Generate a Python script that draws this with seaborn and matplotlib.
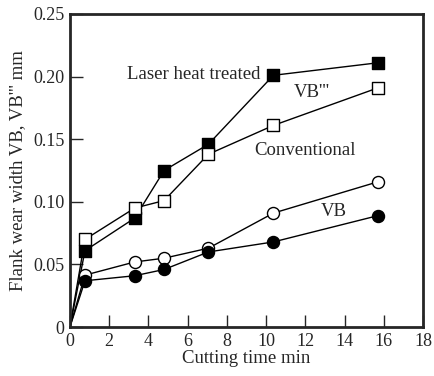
import matplotlib
matplotlib.use("Agg")
import matplotlib.pyplot as plt
import seaborn as sns
import pandas as pd

# cutting time (min) and flank wear (mm)
time = [0, 0.77, 3.3, 4.8, 7.06, 10.37, 15.7]
laser_vb3 = [0, 0.061, 0.087, 0.125, 0.146, 0.201, 0.211]
conv_vb3 = [0, 0.070, 0.095, 0.101, 0.138, 0.161, 0.191]
conv_vb = [0, 0.0415, 0.052, 0.055, 0.063, 0.091, 0.116]
laser_vb = [0, 0.037, 0.041, 0.046, 0.060, 0.068, 0.089]

sns.set_style("ticks")
plt.rcParams["font.family"] = ["Liberation Serif", "DejaVu Serif"]

fig = plt.figure(figsize=(4.34, 3.76), dpi=100)
ax = fig.add_axes([0.161, 0.130, 0.814, 0.833])

series = [
    (laser_vb3, "s", "black"),
    (conv_vb3, "s", "white"),
    (conv_vb, "o", "white"),
    (laser_vb, "o", "black"),
]
for vals, mk, fc in series:
    df = pd.DataFrame({"t": time, "w": vals})
    sns.lineplot(data=df, x="t", y="w", ax=ax, color="black", lw=1.0,
                 zorder=2)
    sns.scatterplot(data=df.iloc[1:], x="t", y="w", ax=ax, marker=mk,
                    s=75, facecolor=fc, edgecolor="black", linewidth=1.0,
                    zorder=3)

ax.set_xlim(0, 18)
ax.set_ylim(0, 0.25)
ax.set_xticks(range(0, 19, 2))
ax.set_yticks([0, 0.05, 0.10, 0.15, 0.20, 0.25])
ax.set_yticklabels(["0", "0.05", "0.10", "0.15", "0.20", "0.25"])
ax.tick_params(direction="in", length=9, width=1.0, labelsize=13, pad=4)
for sp in ax.spines.values():
    sp.set_linewidth(2.0)
    sp.set_visible(True)

ax.set_xlabel("Cutting time min", fontsize=13.5, labelpad=0)
ax.set_ylabel("Flank wear width VB, VB''' mm", fontsize=13.5, labelpad=5)

ax.text(2.9, 0.2015, "Laser heat treated", fontsize=13.5, va="center", ha="left")
ax.text(11.4, 0.187, "VB'''", fontsize=13.5, va="center", ha="left")
ax.text(9.4, 0.141, "Conventional", fontsize=13.5, va="center", ha="left")
ax.text(12.8, 0.092, "VB", fontsize=13.5, va="center", ha="left",
        bbox=dict(facecolor="white", edgecolor="none", pad=0.5), zorder=4)

fig.savefig("out.png", dpi=100)
